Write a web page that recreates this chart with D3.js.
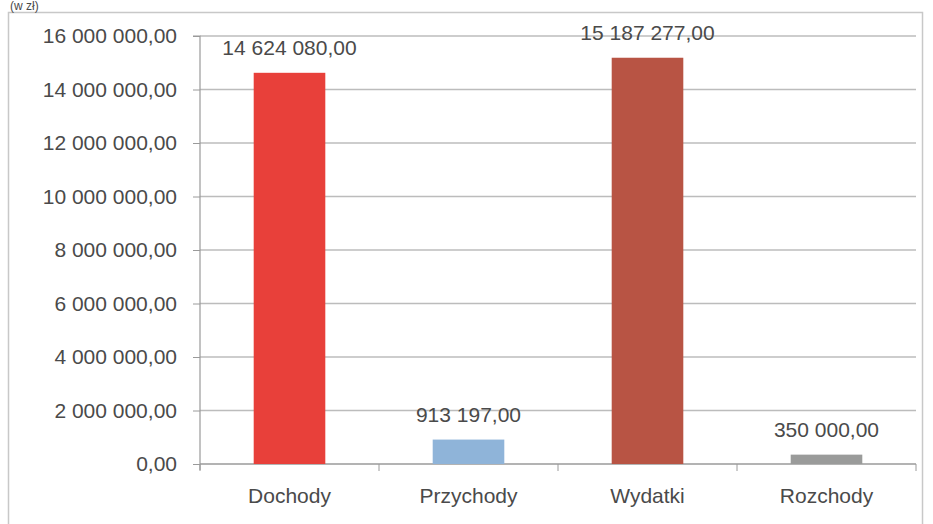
<!DOCTYPE html>
<html><head><meta charset="utf-8">
<script src="https://cdn.jsdelivr.net/npm/d3@7"></script>
<style>body{margin:0;background:#fff;}svg{display:block;}text{font-family:"Liberation Sans",Arial,sans-serif;fill:#4a4a4a;}</style>
</head><body>
<script>
const categories = ["Dochody","Przychody","Wydatki","Rozchody"];
const values = [14624080, 913197, 15187277, 350000];
const colors = ["#e8403a","#8fb4d9","#b85444","#9a9b9a"];
const yTicks = [0,2000000,4000000,6000000,8000000,10000000,12000000,14000000,16000000];
const unitLabel = "(w zł)";

const W=933,H=524;
const svg=d3.select("body").append("svg").attr("width",W).attr("height",H);
const m={left:200,right:916,top:36,bottom:464};
const fmt = v => { const s = d3.format(",.2f")(v); return s.replace(/,/g," ").replace(".",","); };

svg.append("rect").attr("x",8.5).attr("y",12.5).attr("width",914).attr("height",520).attr("fill","none").attr("stroke","#c8c8c8").attr("stroke-width",1.5);
svg.append("text").attr("x",10).attr("y",10).attr("font-size",12).text(unitLabel);

const x=d3.scaleBand().domain(categories).range([m.left,m.right]).paddingInner(0.6).paddingOuter(0.3);
const y=d3.scaleLinear().domain([0,16000000]).range([m.bottom,m.top]);

// grid
svg.append("g").selectAll("line").data(yTicks).join("line")
  .attr("x1",m.left).attr("x2",m.right).attr("y1",d=>y(d)).attr("y2",d=>y(d))
  .attr("stroke","#bcbcbc").attr("stroke-width",1.5);
// y axis
const ya=svg.append("g").attr("transform",`translate(${m.left},0)`)
  .call(d3.axisLeft(y).tickValues(yTicks).tickFormat(fmt).tickSize(7).tickPadding(16));
ya.select(".domain").attr("stroke","#9a9a9a").attr("stroke-width",1.2).attr("d",`M-7,${m.top}H0V${m.bottom+6}`);
ya.selectAll("line").attr("stroke","#9a9a9a");
ya.selectAll("text").attr("font-size",21).attr("fill","#4a4a4a").attr("font-family","Liberation Sans, Arial").attr("x",-23);

// x axis
const xa=svg.append("g").attr("transform",`translate(0,${m.bottom})`);
const step=(m.right-m.left)/categories.length;
xa.append("line").attr("x1",m.left).attr("x2",m.right).attr("y1",0).attr("y2",0).attr("stroke","#9a9a9a").attr("stroke-width",1.2);
xa.selectAll(".tk").data(d3.range(categories.length+1)).join("line")
  .attr("x1",i=>m.left+i*step).attr("x2",i=>m.left+i*step).attr("y1",0).attr("y2",7).attr("stroke","#9a9a9a");
xa.selectAll(".cl").data(categories).join("text")
  .attr("x",d=>x(d)+x.bandwidth()/2).attr("y",39).attr("text-anchor","middle").attr("font-size",21).text(d=>d);

// bars
const data=categories.map((c,i)=>({c,v:values[i],col:colors[i]}));
svg.append("g").selectAll("rect").data(data).join("rect")
  .attr("x",d=>x(d.c)).attr("width",x.bandwidth()).attr("y",d=>y(d.v)).attr("height",d=>y(0)-y(d.v)).attr("fill",d=>d.col);
svg.append("g").selectAll("text").data(data).join("text")
  .attr("x",d=>x(d.c)+x.bandwidth()/2).attr("y",d=>y(d.v)-18).attr("text-anchor","middle").attr("font-size",21).text(d=>fmt(d.v));
</script>
</body></html>
